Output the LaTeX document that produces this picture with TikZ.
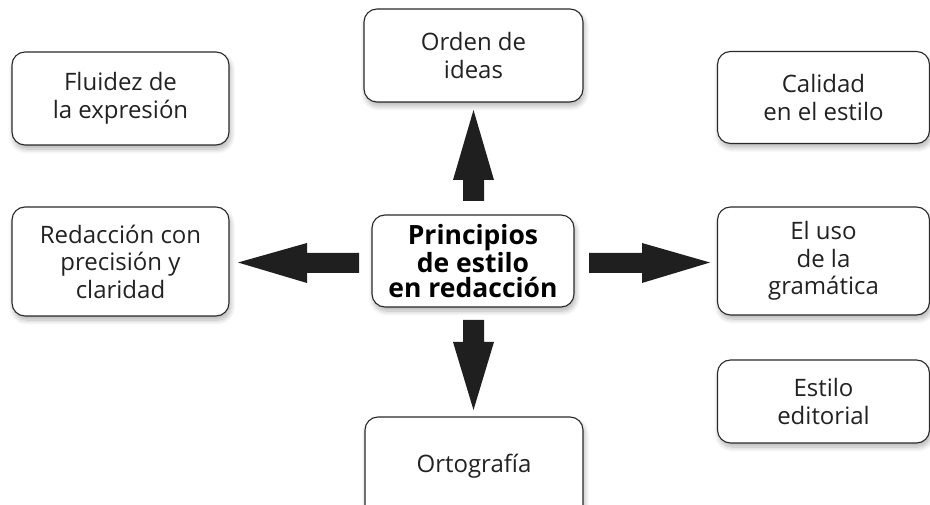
\documentclass[tikz,border=0pt]{standalone}
\usepackage{fontspec}
\setmainfont{Open Sans}
\usetikzlibrary{shadows.blur}
\definecolor{boxline}{HTML}{2A2A2A}
\definecolor{txt}{HTML}{222222}
\tikzset{
  boxfont/.style={font=\fontsize{24}{27.5}\selectfont},
  box/.style={draw=boxline, line width=1.1pt, rounded corners=13pt, fill=white,
    align=center, text=txt, boxfont, inner sep=0pt,
    blur shadow={shadow xshift=1.5pt, shadow yshift=-4pt, shadow blur steps=8, shadow opacity=30, shadow blur radius=5pt}},
  mainbox/.style={box, font=\bfseries\fontsize{26.5}{25}\selectfont, text=black},
  blockarrow/.style={fill=black!88, draw=none}
}
\begin{document}
\begin{tikzpicture}[x=1pt,y=-1pt]
\useasboundingbox (0,0) rectangle (930,505);
\node[box, minimum width=219pt, minimum height=93pt] (orden) at (473.5,55.5) {Orden de\\ideas};
\node[box, minimum width=217pt, minimum height=93pt] (fluidez) at (120.5,98.5) {Fluidez de\\la expresión};
\node[box, minimum width=212pt, minimum height=92pt] (calidad) at (823.5,97.5) {Calidad\\en el estilo};
\node[box, minimum width=217pt, minimum height=109pt] (redaccion) at (120.5,261.5) {Redacción con\\precisión y\\claridad};
\node[mainbox, minimum width=202pt, minimum height=92pt] (centro) at (473,261) {Principios\\de estilo\\en redacción};
\node[box, minimum width=212pt, minimum height=108pt] (uso) at (823.5,261) {El uso\\de la\\gramática};
\node[box, minimum width=212pt, minimum height=83pt] (estilo) at (823.5,401.5) {Estilo\\editorial};
\node[box, minimum width=218pt, minimum height=110pt] (orto) at (474,472) {};
\node[text=txt, boxfont, inner sep=0pt] (ortotxt) at (474,466) {Ortografía};
% block arrows
\fill[blockarrow] (463,201) -- (463,180) -- (453,180) -- (473.5,110) -- (494,180) -- (484,180) -- (484,201) -- cycle;
\fill[blockarrow] (463,320) -- (463,342) -- (453,342) -- (473.5,410) -- (494,342) -- (484,342) -- (484,320) -- cycle;
\fill[blockarrow] (359,253) -- (307,253) -- (307,243) -- (238,262.5) -- (307,283) -- (307,273) -- (359,273) -- cycle;
\fill[blockarrow] (589,253) -- (642,253) -- (642,243) -- (710,262.5) -- (642,283) -- (642,273) -- (589,273) -- cycle;
\end{tikzpicture}
\end{document}
